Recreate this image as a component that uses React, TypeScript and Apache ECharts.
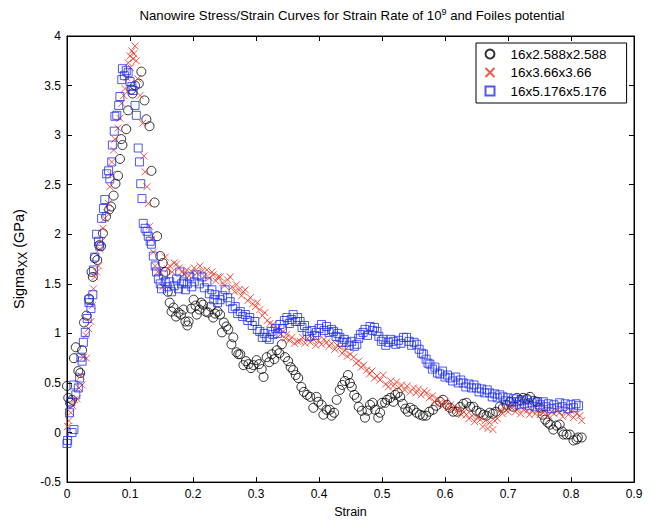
import React, { useEffect, useRef } from "react";
import * as echarts from "echarts";

const seriesNames = ["16x2.588x2.588", "16x3.66x3.66", "16x5.176x5.176"];
const xTicks = { min: 0, max: 0.9, interval: 0.1 };
const yTicks = { min: -0.5, max: 4, interval: 0.5 };

const black: number[][] = [
  [0.000,0.47],[0.002,0.35],[0.005,0.30],[0.008,0.33],[0.011,0.75],[0.014,0.86],[0.018,0.62],[0.021,0.60],[0.024,0.83],[0.027,1.11],
  [0.031,1.18],[0.035,1.35],[0.039,1.62],[0.041,1.57],[0.044,1.76],[0.048,1.74],[0.051,1.89],[0.054,1.88],[0.057,2.01],[0.062,2.18],
  [0.067,2.25],[0.070,2.28],[0.074,2.39],[0.077,2.51],[0.081,2.59],[0.084,2.76],[0.086,2.96],[0.088,2.90],[0.094,3.06],[0.097,3.25],
  [0.102,3.46],[0.104,3.42],[0.108,3.50],[0.114,3.52],[0.118,3.64],[0.123,3.35],[0.126,3.16],[0.131,3.09],[0.134,2.64],[0.139,2.32],
  [0.143,1.98],[0.148,1.78],[0.152,1.71],[0.156,1.62],[0.160,1.42],[0.163,1.31],[0.166,1.22],[0.169,1.26],[0.173,1.17],[0.177,1.21],
  [0.181,1.19],[0.185,1.24],[0.188,1.12],[0.191,1.08],[0.193,1.12],[0.197,1.25],[0.201,1.34],[0.204,1.28],[0.206,1.19],[0.210,1.24],
  [0.213,1.31],[0.216,1.29],[0.220,1.22],[0.224,1.21],[0.228,1.27],[0.232,1.16],[0.235,1.20],[0.239,1.22],[0.243,1.19],[0.246,1.01],
  [0.249,1.11],[0.253,1.07],[0.256,1.04],[0.261,0.89],[0.264,0.96],[0.269,0.81],[0.272,0.79],[0.275,0.79],[0.280,0.68],[0.284,0.72],
  [0.288,0.69],[0.292,0.65],[0.296,0.68],[0.301,0.73],[0.305,0.69],[0.309,0.64],[0.312,0.56],[0.317,0.76],[0.321,0.71],[0.325,0.79],
  [0.329,0.74],[0.333,0.83],[0.337,0.80],[0.341,0.89],[0.346,0.76],[0.351,0.72],[0.355,0.66],[0.359,0.63],[0.363,0.58],[0.367,0.55],
  [0.372,0.46],[0.376,0.41],[0.381,0.38],[0.386,0.36],[0.391,0.25],[0.396,0.36],[0.399,0.31],[0.404,0.28],[0.407,0.18],[0.412,0.23],
  [0.417,0.23],[0.420,0.17],[0.424,0.20],[0.428,0.33],[0.433,0.43],[0.437,0.48],[0.441,0.52],[0.446,0.58],[0.449,0.50],[0.452,0.46],
  [0.456,0.38],[0.460,0.35],[0.463,0.26],[0.468,0.22],[0.473,0.15],[0.477,0.22],[0.481,0.28],[0.485,0.30],[0.489,0.23],[0.494,0.15],
  [0.497,0.20],[0.500,0.30],[0.505,0.30],[0.508,0.33],[0.513,0.35],[0.518,0.31],[0.521,0.38],[0.525,0.40],[0.529,0.36],[0.533,0.29],
  [0.537,0.24],[0.541,0.21],[0.545,0.25],[0.550,0.23],[0.555,0.20],[0.560,0.18],[0.565,0.17],[0.570,0.17],[0.575,0.21],[0.581,0.23],
  [0.586,0.27],[0.592,0.31],[0.597,0.33],[0.603,0.28],[0.608,0.25],[0.613,0.21],[0.619,0.21],[0.624,0.26],[0.629,0.29],[0.634,0.30],
  [0.640,0.26],[0.645,0.26],[0.650,0.22],[0.656,0.20],[0.661,0.18],[0.666,0.17],[0.671,0.20],[0.676,0.19],[0.681,0.21],[0.687,0.26],
  [0.692,0.25],[0.698,0.28],[0.703,0.31],[0.708,0.26],[0.714,0.35],[0.719,0.33],[0.724,0.35],[0.730,0.34],[0.735,0.36],[0.741,0.32],
  [0.746,0.31],[0.751,0.25],[0.755,0.18],[0.759,0.13],[0.763,0.10],[0.767,0.08],[0.772,0.03],[0.777,0.07],[0.782,0.08],[0.786,0.01],
  [0.788,-0.02],[0.793,-0.02],[0.798,-0.02],[0.804,-0.08],[0.809,-0.07],[0.811,-0.05],[0.817,-0.05]
];

const red: number[][] = [
  [0.001,0.06],[0.003,0.12],[0.006,0.20],[0.009,0.27],[0.012,0.33],[0.016,0.34],[0.019,0.45],[0.022,0.57],[0.024,0.48],[0.026,0.76],
  [0.031,0.75],[0.030,0.98],[0.034,1.05],[0.038,1.12],[0.040,1.28],[0.042,1.45],[0.044,1.57],[0.047,1.62],[0.050,1.68],[0.052,1.85],
  [0.055,1.93],[0.057,2.06],[0.060,2.16],[0.063,2.22],[0.066,2.31],[0.068,2.48],[0.070,2.60],[0.071,2.73],[0.074,2.85],[0.076,2.96],
  [0.081,3.07],[0.084,3.17],[0.087,3.32],[0.090,3.40],[0.092,3.47],[0.095,3.58],[0.097,3.73],[0.100,3.80],[0.101,3.68],[0.103,3.85],
  [0.105,3.77],[0.106,3.82],[0.108,3.90],[0.110,3.75],[0.112,3.57],[0.116,3.40],[0.120,3.12],[0.122,2.79],[0.124,2.63],[0.127,2.48],
  [0.129,2.31],[0.131,2.08],[0.134,1.95],[0.137,1.82],[0.140,1.68],[0.144,1.62],[0.148,1.62],[0.152,1.47],[0.156,1.77],[0.160,1.65],
  [0.163,1.68],[0.167,1.62],[0.170,1.71],[0.174,1.70],[0.178,1.66],[0.182,1.62],[0.186,1.60],[0.190,1.64],[0.194,1.58],[0.198,1.62],
  [0.202,1.66],[0.206,1.61],[0.211,1.68],[0.215,1.63],[0.218,1.58],[0.222,1.64],[0.226,1.56],[0.230,1.62],[0.232,1.59],[0.236,1.53],
  [0.240,1.57],[0.243,1.57],[0.247,1.51],[0.250,1.48],[0.255,1.54],[0.259,1.57],[0.262,1.47],[0.266,1.42],[0.269,1.49],[0.273,1.44],
  [0.277,1.38],[0.280,1.42],[0.283,1.44],[0.287,1.33],[0.291,1.36],[0.295,1.30],[0.299,1.27],[0.302,1.31],[0.306,1.24],[0.310,1.18],
  [0.314,1.21],[0.318,1.13],[0.322,1.10],[0.327,1.09],[0.331,1.03],[0.335,1.05],[0.339,0.99],[0.343,1.02],[0.347,0.95],[0.349,0.99],
  [0.353,0.93],[0.357,0.96],[0.361,0.90],[0.366,0.92],[0.370,0.92],[0.374,0.96],[0.378,0.90],[0.382,0.95],[0.386,0.91],[0.391,0.94],
  [0.395,0.88],[0.399,0.93],[0.404,0.89],[0.408,0.94],[0.412,0.91],[0.416,0.87],[0.420,0.90],[0.425,0.84],[0.429,0.88],[0.433,0.86],
  [0.437,0.80],[0.441,0.83],[0.445,0.77],[0.450,0.79],[0.455,0.76],[0.459,0.70],[0.463,0.72],[0.467,0.66],[0.471,0.68],[0.476,0.63],
  [0.480,0.59],[0.484,0.62],[0.488,0.55],[0.492,0.57],[0.497,0.53],[0.502,0.58],[0.506,0.49],[0.510,0.46],[0.514,0.52],[0.518,0.47],
  [0.523,0.51],[0.527,0.45],[0.531,0.48],[0.536,0.43],[0.540,0.47],[0.545,0.41],[0.550,0.45],[0.554,0.40],[0.558,0.44],[0.562,0.38],
  [0.567,0.42],[0.571,0.40],[0.575,0.35],[0.580,0.37],[0.584,0.31],[0.588,0.34],[0.592,0.30],[0.597,0.27],[0.601,0.31],[0.605,0.25],
  [0.609,0.28],[0.613,0.25],[0.618,0.21],[0.622,0.24],[0.626,0.18],[0.630,0.21],[0.634,0.18],[0.638,0.14],[0.643,0.17],[0.647,0.11],
  [0.651,0.15],[0.656,0.13],[0.660,0.06],[0.664,0.12],[0.668,0.04],[0.671,0.10],[0.676,0.03],[0.679,0.12],[0.683,0.14],[0.687,0.22],
  [0.691,0.19],[0.695,0.24],[0.700,0.21],[0.704,0.26],[0.708,0.26],[0.712,0.21],[0.716,0.24],[0.720,0.19],[0.725,0.23],[0.730,0.22],
  [0.734,0.18],[0.738,0.22],[0.743,0.19],[0.747,0.23],[0.751,0.18],[0.756,0.20],[0.760,0.23],[0.764,0.17],[0.769,0.21],[0.773,0.19],
  [0.778,0.22],[0.782,0.20],[0.787,0.16],[0.791,0.21],[0.796,0.18],[0.800,0.22],[0.804,0.15],[0.809,0.19],[0.814,0.17],[0.817,0.12]
];

const blue: number[][] = [
  [0.000,-0.11],[0.001,-0.08],[0.004,0.20],[0.006,0.31],[0.008,0.00],[0.011,0.03],[0.011,0.48],[0.014,0.38],[0.018,0.45],[0.020,0.55],
  [0.022,0.76],[0.024,0.72],[0.026,0.91],[0.029,1.01],[0.032,1.15],[0.035,1.31],[0.035,1.34],[0.038,1.25],[0.041,1.39],[0.042,1.64],
  [0.044,1.77],[0.047,2.00],[0.050,1.93],[0.052,1.88],[0.055,2.16],[0.058,2.26],[0.060,2.35],[0.063,2.61],[0.066,2.64],[0.068,2.56],
  [0.071,2.73],[0.072,2.90],[0.075,3.04],[0.076,3.19],[0.079,3.20],[0.082,3.30],[0.084,3.39],[0.087,3.56],[0.088,3.67],[0.091,3.60],
  [0.094,3.65],[0.097,3.63],[0.100,3.54],[0.103,3.49],[0.105,3.45],[0.108,3.30],[0.110,3.20],[0.113,2.87],[0.115,2.73],[0.117,2.51],
  [0.119,2.36],[0.121,2.11],[0.124,2.06],[0.127,2.03],[0.129,1.98],[0.132,1.93],[0.134,1.90],[0.137,1.78],[0.140,1.68],[0.142,1.62],
  [0.145,1.55],[0.148,1.50],[0.150,1.45],[0.153,1.59],[0.156,1.52],[0.159,1.47],[0.163,1.52],[0.166,1.42],[0.170,1.48],[0.174,1.55],
  [0.177,1.45],[0.179,1.62],[0.182,1.50],[0.185,1.52],[0.188,1.44],[0.191,1.50],[0.195,1.57],[0.198,1.47],[0.202,1.52],[0.206,1.59],
  [0.210,1.50],[0.214,1.57],[0.218,1.46],[0.222,1.52],[0.226,1.40],[0.230,1.44],[0.233,1.34],[0.235,1.39],[0.239,1.31],[0.243,1.34],
  [0.247,1.38],[0.251,1.44],[0.255,1.36],[0.259,1.32],[0.263,1.25],[0.267,1.27],[0.271,1.20],[0.275,1.22],[0.279,1.17],[0.283,1.19],
  [0.287,1.13],[0.290,1.16],[0.294,1.08],[0.298,1.12],[0.302,1.04],[0.306,1.02],[0.310,0.96],[0.313,1.00],[0.317,0.96],[0.321,0.94],
  [0.324,1.02],[0.327,0.99],[0.331,1.05],[0.334,1.00],[0.338,1.09],[0.342,1.05],[0.345,1.13],[0.349,1.16],[0.353,1.10],[0.356,1.14],
  [0.359,1.19],[0.363,1.12],[0.366,1.16],[0.370,1.12],[0.373,1.06],[0.377,1.08],[0.381,1.02],[0.385,0.97],[0.389,1.03],[0.393,0.98],
  [0.396,1.01],[0.400,1.05],[0.404,1.09],[0.408,1.03],[0.412,1.07],[0.416,1.01],[0.420,1.04],[0.423,1.02],[0.427,0.97],[0.430,1.00],
  [0.433,0.96],[0.437,0.91],[0.440,0.94],[0.444,0.91],[0.448,0.88],[0.452,0.92],[0.456,0.87],[0.460,0.89],[0.463,0.95],[0.466,0.99],
  [0.470,1.01],[0.473,1.04],[0.477,0.98],[0.481,1.07],[0.485,1.03],[0.488,1.06],[0.492,1.02],[0.495,0.97],[0.499,0.92],[0.502,0.94],
  [0.506,0.88],[0.510,0.91],[0.514,0.94],[0.518,0.92],[0.522,0.89],[0.526,0.93],[0.530,0.90],[0.534,0.96],[0.539,0.96],[0.543,0.92],
  [0.547,0.88],[0.551,0.91],[0.555,0.89],[0.559,0.84],[0.563,0.80],[0.566,0.79],[0.570,0.74],[0.573,0.70],[0.576,0.69],[0.580,0.64],
  [0.584,0.66],[0.588,0.60],[0.592,0.59],[0.596,0.62],[0.600,0.56],[0.604,0.58],[0.608,0.55],[0.612,0.52],[0.617,0.56],[0.621,0.50],
  [0.625,0.53],[0.629,0.50],[0.633,0.46],[0.638,0.49],[0.642,0.45],[0.646,0.48],[0.650,0.45],[0.654,0.41],[0.658,0.44],[0.663,0.40],
  [0.667,0.43],[0.671,0.40],[0.675,0.36],[0.679,0.39],[0.683,0.35],[0.687,0.38],[0.692,0.36],[0.696,0.32],[0.700,0.35],[0.705,0.31],
  [0.709,0.34],[0.714,0.31],[0.718,0.28],[0.722,0.32],[0.726,0.29],[0.730,0.33],[0.734,0.27],[0.738,0.30],[0.743,0.26],[0.747,0.31],
  [0.751,0.28],[0.756,0.31],[0.760,0.26],[0.764,0.29],[0.769,0.24],[0.773,0.28],[0.778,0.25],[0.782,0.30],[0.786,0.26],[0.791,0.29],
  [0.795,0.24],[0.800,0.28],[0.804,0.25],[0.808,0.29],[0.812,0.27]
];

const FONT = "'Liberation Sans', Arial, Helvetica, sans-serif";
const CROSS = "path://M0,0L10,10M10,0L0,10";

export default function App() {
  const ref = useRef<HTMLDivElement>(null);
  useEffect(() => {
    if (!ref.current) return;
    const chart = echarts.init(ref.current, undefined, { renderer: "svg" });
    const axisCommon = {
      axisLine: { show: true, onZero: false, lineStyle: { color: "#000", width: 1 } },
      axisTick: { show: true, inside: true, length: 5, lineStyle: { color: "#000" } },
      splitLine: { show: false },
    };
    chart.setOption({
      animation: false,
      backgroundColor: "#fff",
      title: {
        text: "Nanowire Stress/Strain Curves for Strain Rate of 10{sup|9} and Foiles potential",
        left: 347,
        top: 2,
        textAlign: "center",
        textStyle: {
          fontFamily: FONT,
          fontSize: 13.2,
          fontWeight: "normal",
          color: "#000",
          rich: {
            sup: { fontFamily: FONT, fontSize: 9, color: "#000", verticalAlign: "top", padding: [0, 0, 7, 0] },
          },
        },
      },
      grid: { left: 67, right: 16, top: 36, bottom: 33, show: true, borderColor: "#000", borderWidth: 1, backgroundColor: "#fff" },
      legend: {
        orient: "vertical",
        left: 476,
        top: 43,
        padding: [4, 20, 5, 7],
        itemWidth: 9,
        itemHeight: 9,
        itemGap: 4.5,
        backgroundColor: "#fff",
        borderColor: "#000",
        borderWidth: 1,
        borderRadius: 0,
        textStyle: { fontFamily: FONT, fontSize: 13.5, color: "#000", lineHeight: 14, padding: [0, 0, 0, 11] },
        data: seriesNames,
      },
      xAxis: [
        {
          type: "value",
          min: xTicks.min,
          max: xTicks.max,
          interval: xTicks.interval,
          position: "bottom",
          name: "Strain",
          nameLocation: "middle",
          nameGap: 19,
          nameTextStyle: { fontFamily: FONT, fontSize: 12.5, color: "#000" },
          axisLabel: { fontFamily: FONT, fontSize: 12, color: "#000", margin: 6 },
          ...axisCommon,
        },
        {
          type: "value",
          min: xTicks.min,
          max: xTicks.max,
          interval: xTicks.interval,
          position: "top",
          axisLabel: { show: false },
          ...axisCommon,
        },
      ],
      yAxis: [
        {
          type: "value",
          min: yTicks.min,
          max: yTicks.max,
          interval: yTicks.interval,
          position: "left",
          name: "Sigma{sub|XX} (GPa)",
          nameLocation: "middle",
          nameRotate: 90,
          nameGap: 34,
          nameTextStyle: {
            fontFamily: FONT,
            fontSize: 14.5,
            color: "#000",
            rich: {
              sub: { fontFamily: FONT, fontSize: 12, color: "#000", verticalAlign: "bottom", padding: [8, 0, 0, 0] },
            },
          },
          axisLabel: { fontFamily: FONT, fontSize: 12, color: "#000", margin: 6 },
          ...axisCommon,
        },
        {
          type: "value",
          min: yTicks.min,
          max: yTicks.max,
          interval: yTicks.interval,
          position: "right",
          axisLabel: { show: false },
          ...axisCommon,
        },
      ],
      series: [
        {
          name: seriesNames[0],
          type: "scatter",
          data: black,
          symbol: "circle",
          symbolSize: 9,
          itemStyle: { color: "none", borderColor: "#000", borderWidth: 1 },
        },
        {
          name: seriesNames[1],
          type: "scatter",
          data: red,
          symbol: CROSS,
          symbolSize: 7,
          itemStyle: { color: "none", borderColor: "#f0301e", borderWidth: 1 },
        },
        {
          name: seriesNames[2],
          type: "scatter",
          data: blue,
          symbol: "rect",
          symbolSize: 8,
          itemStyle: { color: "none", borderColor: "#2030f0", borderWidth: 1 },
        },
      ],
    });
    return () => chart.dispose();
  }, []);
  return <div ref={ref} style={{ position: "fixed", left: 0, top: 0, width: 650, height: 523 }} />;
}
